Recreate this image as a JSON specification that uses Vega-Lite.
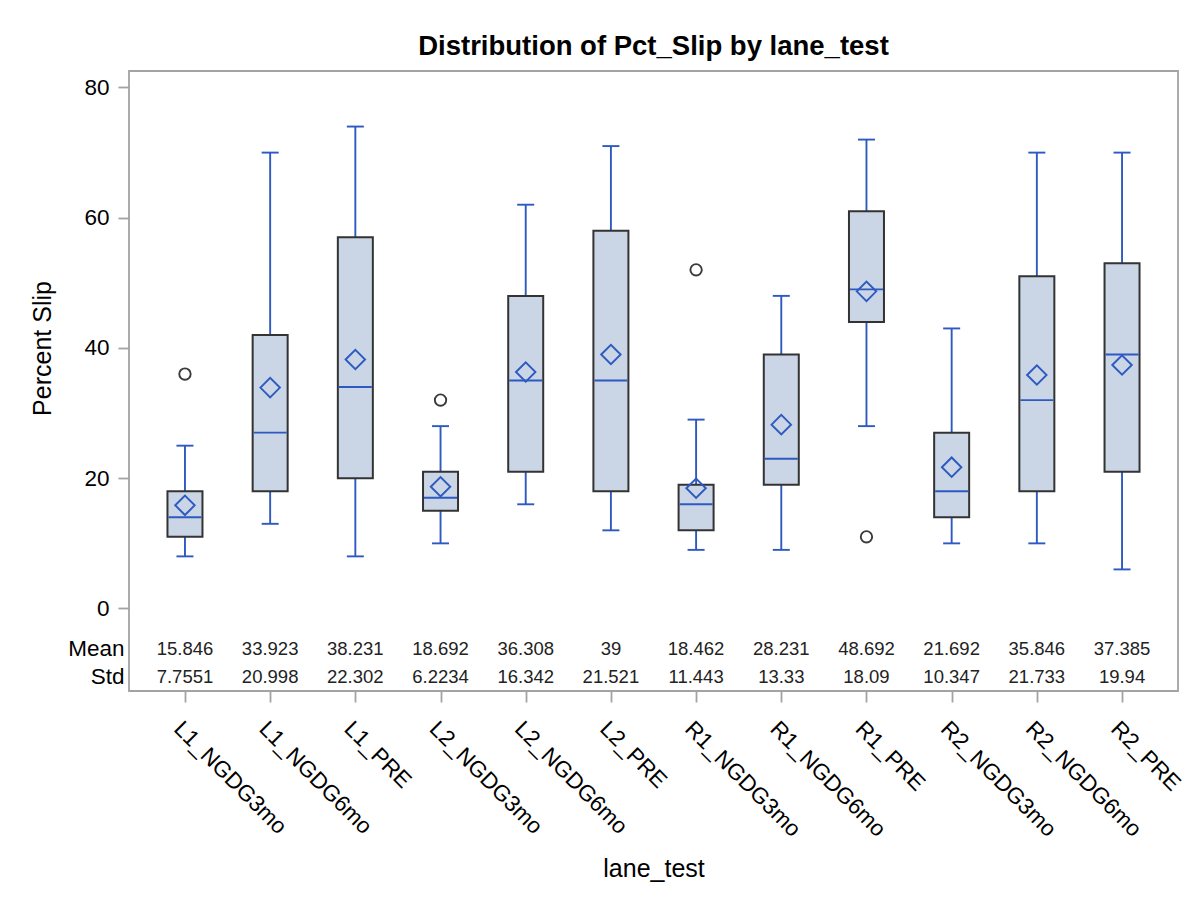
{
  "$schema": "https://vega.github.io/schema/vega-lite/v6.json",
  "width": 1049,
  "height": 620,
  "autosize": {"type": "none"},
  "padding": {"left": 129, "top": 71, "right": 22, "bottom": 213},
  "background": "white",
  "title": {
    "text": "Distribution of Pct_Slip by lane_test",
    "font": "Liberation Sans",
    "fontSize": 27.5,
    "fontWeight": "bold",
    "color": "#000000",
    "anchor": "middle",
    "baseline": "alphabetic",
    "offset": -11
  },
  "datasets": {
    "stats": [
      {"lane": "L1_NGDG3mo", "low": 8, "q1": 11, "median": 14, "q3": 18, "high": 25, "mean": 15.846, "meanText": "15.846", "stdText": "7.7551"},
      {"lane": "L1_NGDG6mo", "low": 13, "q1": 18, "median": 27, "q3": 42, "high": 70, "mean": 33.923, "meanText": "33.923", "stdText": "20.998"},
      {"lane": "L1_PRE", "low": 8, "q1": 20, "median": 34, "q3": 57, "high": 74, "mean": 38.231, "meanText": "38.231", "stdText": "22.302"},
      {"lane": "L2_NGDG3mo", "low": 10, "q1": 15, "median": 17, "q3": 21, "high": 28, "mean": 18.692, "meanText": "18.692", "stdText": "6.2234"},
      {"lane": "L2_NGDG6mo", "low": 16, "q1": 21, "median": 35, "q3": 48, "high": 62, "mean": 36.308, "meanText": "36.308", "stdText": "16.342"},
      {"lane": "L2_PRE", "low": 12, "q1": 18, "median": 35, "q3": 58, "high": 71, "mean": 39, "meanText": "39", "stdText": "21.521"},
      {"lane": "R1_NGDG3mo", "low": 9, "q1": 12, "median": 16, "q3": 19, "high": 29, "mean": 18.462, "meanText": "18.462", "stdText": "11.443"},
      {"lane": "R1_NGDG6mo", "low": 9, "q1": 19, "median": 23, "q3": 39, "high": 48, "mean": 28.231, "meanText": "28.231", "stdText": "13.33"},
      {"lane": "R1_PRE", "low": 28, "q1": 44, "median": 49, "q3": 61, "high": 72, "mean": 48.692, "meanText": "48.692", "stdText": "18.09"},
      {"lane": "R2_NGDG3mo", "low": 10, "q1": 14, "median": 18, "q3": 27, "high": 43, "mean": 21.692, "meanText": "21.692", "stdText": "10.347"},
      {"lane": "R2_NGDG6mo", "low": 10, "q1": 18, "median": 32, "q3": 51, "high": 70, "mean": 35.846, "meanText": "35.846", "stdText": "21.733"},
      {"lane": "R2_PRE", "low": 6, "q1": 21, "median": 39, "q3": 53, "high": 70, "mean": 37.385, "meanText": "37.385", "stdText": "19.94"}
    ],
    "outliers": [
      {"lane": "L1_NGDG3mo", "value": 36},
      {"lane": "L2_NGDG3mo", "value": 32},
      {"lane": "R1_NGDG3mo", "value": 52},
      {"lane": "R1_PRE", "value": 11}
    ]
  },
  "config": {
    "view": {"stroke": "#a3a3a3", "strokeWidth": 1.8},
    "axis": {
      "labelFont": "Liberation Sans",
      "titleFont": "Liberation Sans",
      "labelColor": "#000000",
      "titleColor": "#000000",
      "tickColor": "#a3a3a3",
      "tickWidth": 1.8,
      "grid": false,
      "domain": false
    }
  },
  "encoding": {
    "x": {
      "field": "lane",
      "type": "nominal",
      "scale": {
        "type": "point",
        "padding": 0.657,
        "domain": ["L1_NGDG3mo", "L1_NGDG6mo", "L1_PRE", "L2_NGDG3mo", "L2_NGDG6mo", "L2_PRE", "R1_NGDG3mo", "R1_NGDG6mo", "R1_PRE", "R2_NGDG3mo", "R2_NGDG6mo", "R2_PRE"]
      },
      "axis": {
        "title": "lane_test",
        "titleFontSize": 25,
        "titleFontWeight": "normal",
        "titleY": 185,
        "titleBaseline": "alphabetic",
        "labelAngle": 45,
        "labelAlign": "left",
        "labelBaseline": "top",
        "labelFontSize": 22.5,
        "labelPadding": 15,
        "tickSize": 11,
        "labelOverlap": false
      }
    }
  },
  "layer": [
    {
      "data": {"name": "stats"},
      "mark": {"type": "rule", "color": "#2d59c0", "strokeWidth": 1.9},
      "encoding": {
        "y": {
          "field": "low",
          "type": "quantitative",
          "title": "Percent Slip",
          "scale": {"domain": [-12.67, 82.53], "nice": false, "zero": false},
          "axis": {
            "title": "Percent Slip",
            "titleFontSize": 25,
            "titleFontWeight": "normal",
            "titleAngle": -90,
            "titleX": -79,
            "titleY": 277,
            "titleAlign": "center",
            "titleBaseline": "alphabetic",
            "values": [0, 20, 40, 60, 80, -6.22, -10.52],
            "labelExpr": "datum.value < -8 ? 'Std' : (datum.value < 0 ? 'Mean' : datum.label)",
            "labelFontSize": 22.5,
            "labelOverlap": false,
            "labelFlush": false,
            "tickSize": 11,
            "tickOpacity": {"condition": {"test": "datum.value < 0", "value": 0}, "value": 1},
            "labelPadding": {"condition": {"test": "datum.value < 0", "value": -6}, "value": 9}
          }
        },
        "y2": {"field": "q1"}
      }
    },
    {
      "data": {"name": "stats"},
      "mark": {"type": "rule", "color": "#2d59c0", "strokeWidth": 1.9},
      "encoding": {
        "y": {"field": "q3", "type": "quantitative", "title": "Percent Slip"},
        "y2": {"field": "high"}
      }
    },
    {
      "data": {"name": "stats"},
      "mark": {"type": "tick", "color": "#2d59c0", "size": 17, "thickness": 1.9, "opacity": 1},
      "encoding": {
        "y": {"field": "low", "type": "quantitative", "title": "Percent Slip"}
      }
    },
    {
      "data": {"name": "stats"},
      "mark": {"type": "tick", "color": "#2d59c0", "size": 17, "thickness": 1.9, "opacity": 1},
      "encoding": {
        "y": {"field": "high", "type": "quantitative", "title": "Percent Slip"}
      }
    },
    {
      "data": {"name": "stats"},
      "mark": {"type": "bar", "width": 35, "fill": "#cad5e5", "stroke": "#333333", "strokeWidth": 2, "opacity": 1},
      "encoding": {
        "y": {"field": "q1", "type": "quantitative", "title": "Percent Slip"},
        "y2": {"field": "q3"}
      }
    },
    {
      "data": {"name": "stats"},
      "mark": {"type": "tick", "color": "#2d59c0", "size": 33, "thickness": 1.9, "opacity": 1},
      "encoding": {
        "y": {"field": "median", "type": "quantitative", "title": "Percent Slip"}
      }
    },
    {
      "data": {"name": "stats"},
      "mark": {"type": "point", "shape": "diamond", "filled": false, "stroke": "#2d59c0", "strokeWidth": 1.9, "size": 380, "opacity": 1},
      "encoding": {
        "y": {"field": "mean", "type": "quantitative", "title": "Percent Slip"}
      }
    },
    {
      "data": {"name": "outliers"},
      "mark": {"type": "point", "shape": "circle", "filled": false, "stroke": "#3a3a3a", "strokeWidth": 1.9, "size": 130, "opacity": 1},
      "encoding": {
        "y": {"field": "value", "type": "quantitative", "title": "Percent Slip"}
      }
    },
    {
      "data": {"name": "stats"},
      "mark": {"type": "text", "font": "Liberation Sans", "fontSize": 18.5, "color": "#222222", "align": "center", "baseline": "middle"},
      "encoding": {
        "y": {"datum": -6.22, "type": "quantitative", "title": "Percent Slip"},
        "text": {"field": "meanText"}
      }
    },
    {
      "data": {"name": "stats"},
      "mark": {"type": "text", "font": "Liberation Sans", "fontSize": 18.5, "color": "#222222", "align": "center", "baseline": "middle"},
      "encoding": {
        "y": {"datum": -10.52, "type": "quantitative", "title": "Percent Slip"},
        "text": {"field": "stdText"}
      }
    }
  ]
}
